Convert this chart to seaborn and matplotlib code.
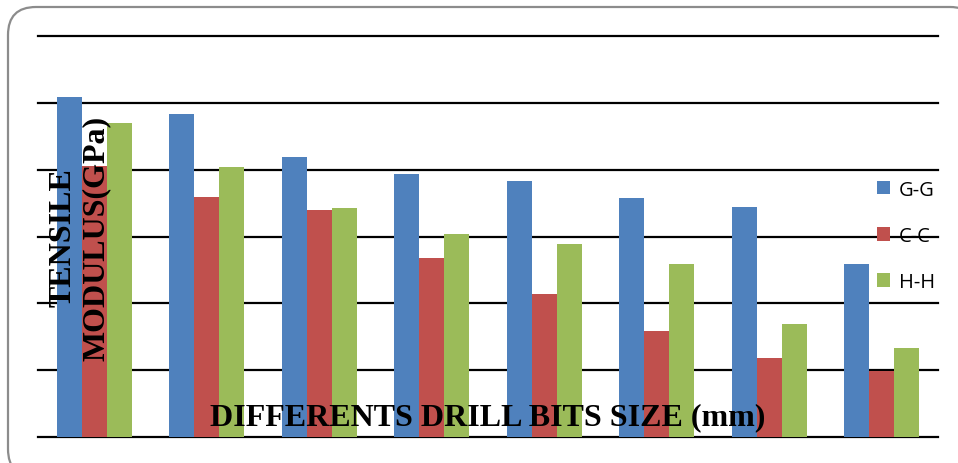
import numpy as np
import pandas as pd
import matplotlib
matplotlib.use("Agg")
import matplotlib.pyplot as plt
import seaborn as sns
from matplotlib.patches import FancyBboxPatch, Patch

# ── Data (grid units) ─────────────────────────────────────────
DRILL_SIZES = ["D1", "D2", "D3", "D4", "D5", "D6", "D7", "D8"]
SERIES = ["G-G", "C-C", "H-H"]
GG = [5.09, 4.84, 4.19, 3.94, 3.83, 3.58, 3.44, 2.59]
CC = [4.06, 3.59, 3.40, 2.68, 2.14, 1.59, 1.18, 0.99]
HH = [4.70, 4.04, 3.43, 3.04, 2.89, 2.59, 1.69, 1.33]
COLORS = ["#4F81BD", "#C0504D", "#9BBB59"]

df = pd.DataFrame({
    "size": DRILL_SIZES * 3,
    "series": [s for s in SERIES for _ in DRILL_SIZES],
    "value": GG + CC + HH,
})

W, H = 958, 464
fig = plt.figure(figsize=(W / 100, H / 100), dpi=100)

# rounded outer frame
bg = fig.add_axes([0, 0, 1, 1])
bg.set_xlim(0, W)
bg.set_ylim(H, 0)
bg.axis("off")
bg.add_patch(FancyBboxPatch((8, 8), 970, 470, boxstyle="round,pad=0,rounding_size=28",
                            facecolor="white", edgecolor="#8c8c8c", linewidth=1.6))

# ── Bars ──────────────────────────────────────────────────────
ax = fig.add_axes([38 / W, 1 - 438 / H, 900 / W, 401 / H])
ax.patch.set_alpha(0)
sns.barplot(data=df, x="size", y="value", hue="series", palette=COLORS,
            width=0.667, linewidth=0, saturation=1, legend=False, ax=ax, zorder=3)

ax.set_xlim(-0.5, len(DRILL_SIZES) - 0.5)
ax.set_ylim(0, 6)
ax.set_yticks(range(0, 7))
for y in range(0, 7):
    ax.axhline(y, color="black", linewidth=1.6, zorder=1, clip_on=False)
for s in ax.spines.values():
    s.set_visible(False)
ax.tick_params(left=False, bottom=False, labelleft=False, labelbottom=False)
ax.set_xlabel("")
ax.set_ylabel("")

# ── Labels ────────────────────────────────────────────────────
serif = dict(family="Liberation Serif", weight="bold", size=23, color="black")
fig.text(488 / W, 1 - 418 / H, "DIFFERENTS DRILL BITS SIZE (mm)",
         ha="center", va="center", zorder=10, **serif)
fig.text(80 / W, 1 - 238 / H, "TENSILE\nMODULUS(GPa)", rotation=90,
         ha="center", va="center", multialignment="center", linespacing=1.2,
         zorder=10, **serif)

handles = [Patch(facecolor=c, edgecolor="none") for c in COLORS]
leg = fig.legend(handles, SERIES, loc="center left",
                 bbox_to_anchor=(877 / W, 1 - 237 / H), frameon=False,
                 prop=dict(family="Open Sans", size=14.5), labelspacing=1.3,
                 handlelength=0.65, handleheight=0.65, handletextpad=0.45,
                 borderpad=0, borderaxespad=0)

fig.savefig("out.png", dpi=100)
